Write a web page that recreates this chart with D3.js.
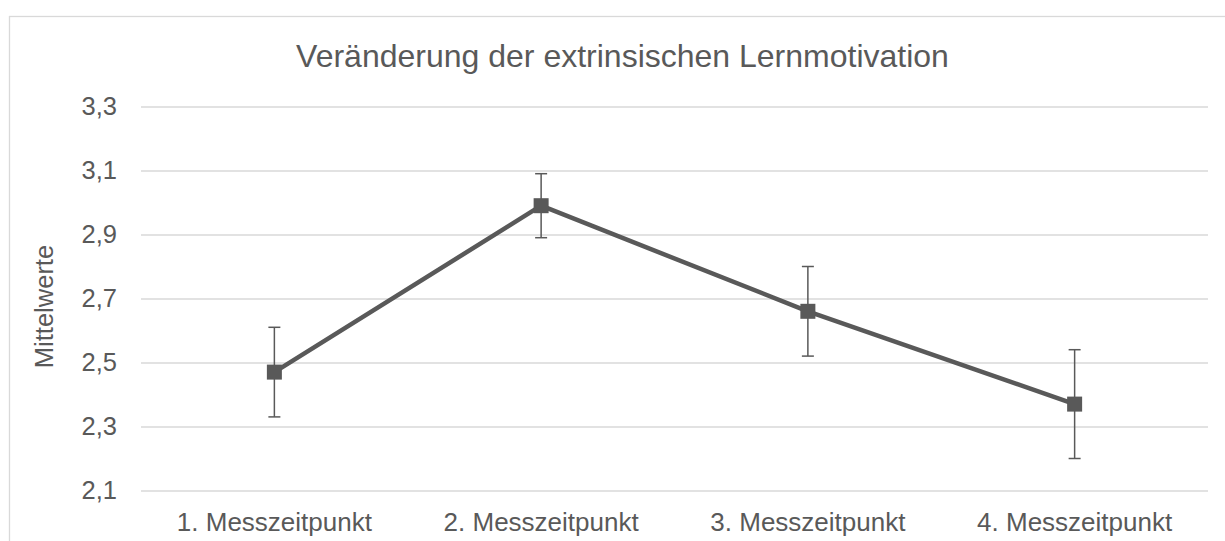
<!DOCTYPE html>
<html>
<head>
<meta charset="utf-8">
<script src="https://cdn.jsdelivr.net/npm/d3@7"></script>
<style>
  html, body { margin: 0; padding: 0; background: #fff; }
  svg { display: block; font-family: "Liberation Sans", Arial, sans-serif; }
</style>
</head>
<body>
<svg id="chart" width="1225" height="541"></svg>
<script>
const categories = ["1. Messzeitpunkt", "2. Messzeitpunkt", "3. Messzeitpunkt", "4. Messzeitpunkt"];
const means = [2.47, 2.99, 2.66, 2.37];
const errLow = [2.33, 2.89, 2.52, 2.20];
const errHigh = [2.61, 3.09, 2.80, 2.54];
const yTicks = [2.1, 2.3, 2.5, 2.7, 2.9, 3.1, 3.3];
const title = "Veränderung der extrinsischen Lernmotivation";
const yLabel = "Mittelwerte";

const svg = d3.select("#chart");
const textColor = "#595959";
const gridColor = "#d9d9d9";

const plot = { left: 141, right: 1208, top: 106.5, bottom: 490.5 };

// chart border
svg.append("rect")
  .attr("x", 9.5).attr("y", 16.5)
  .attr("width", 1240).attr("height", 560)
  .attr("fill", "#fff")
  .attr("stroke", gridColor).attr("stroke-width", 1.3);

const x = d3.scaleBand().domain(categories).range([plot.left, plot.right]).padding(0);
const y = d3.scaleLinear().domain([2.1, 3.3]).range([plot.bottom, plot.top]);
const fmt = v => d3.format(".1f")(v).replace(".", ",");

// gridlines + y tick labels
const yAxis = d3.axisLeft(y).tickValues(yTicks).tickFormat(fmt)
  .tickSize(-(plot.right - plot.left)).tickPadding(24);
const gy = svg.append("g").attr("transform", `translate(${plot.left},0)`).call(yAxis);
gy.select(".domain").remove();
gy.selectAll(".tick line").attr("stroke", gridColor).attr("stroke-width", 1.3);
gy.selectAll(".tick text").attr("fill", textColor).attr("font-size", 25.5)
  .attr("font-family", "'Liberation Sans', Arial, sans-serif");

// x axis labels
const xAxis = d3.axisBottom(x).tickSize(0).tickPadding(22);
const gx = svg.append("g").attr("transform", `translate(0,${plot.bottom})`).call(xAxis);
gx.select(".domain").remove();
gx.selectAll(".tick text").attr("fill", textColor).attr("font-size", 26)
  .attr("font-family", "'Liberation Sans', Arial, sans-serif");

const cx = c => x(c) + x.bandwidth() / 2;
const data = categories.map((c, i) => ({ c, m: means[i], lo: errLow[i], hi: errHigh[i] }));

// line
svg.append("path").datum(data)
  .attr("fill", "none").attr("stroke", textColor).attr("stroke-width", 4.5)
  .attr("stroke-linejoin", "round")
  .attr("d", d3.line().x(d => cx(d.c)).y(d => y(d.m)));

// error bars
const eb = svg.append("g").attr("stroke", textColor).attr("stroke-width", 1.5);
data.forEach(d => {
  eb.append("line").attr("x1", cx(d.c)).attr("x2", cx(d.c)).attr("y1", y(d.lo)).attr("y2", y(d.hi));
  eb.append("line").attr("x1", cx(d.c) - 6).attr("x2", cx(d.c) + 6).attr("y1", y(d.lo)).attr("y2", y(d.lo));
  eb.append("line").attr("x1", cx(d.c) - 6).attr("x2", cx(d.c) + 6).attr("y1", y(d.hi)).attr("y2", y(d.hi));
});

// markers
svg.append("g").selectAll("rect").data(data).join("rect")
  .attr("x", d => cx(d.c) - 7.5).attr("y", d => y(d.m) - 7.5)
  .attr("width", 15).attr("height", 15)
  .attr("fill", textColor);

// title
svg.append("text").attr("x", 622.5).attr("y", 67)
  .attr("text-anchor", "middle").attr("fill", textColor).attr("font-size", 32)
  .text(title);

// y label
svg.append("text")
  .attr("transform", `translate(53,${(plot.top + plot.bottom) / 2 + 8}) rotate(-90)`)
  .attr("text-anchor", "middle").attr("fill", textColor).attr("font-size", 25.5)
  .text(yLabel);
</script>
</body>
</html>
